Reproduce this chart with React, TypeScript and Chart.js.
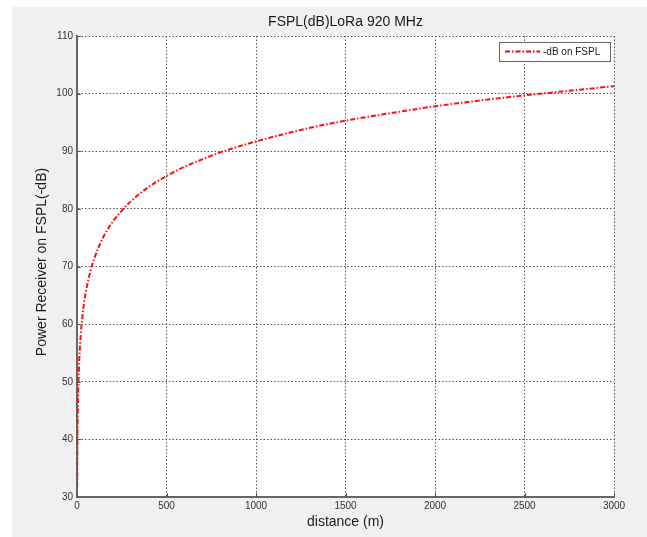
import React, { useEffect, useRef } from "react";
import { Chart, registerables } from "chart.js";

Chart.register(...registerables);

const titleText = "FSPL(dB)LoRa 920 MHz";
const xTitle = "distance (m)";
const yTitle = "Power Receiver on FSPL(-dB)";
const seriesLabel = "-dB on FSPL";

const distances = [1, 2, 3, 5, 7, 10, 15, 20, 30, 40, 50, 75, 100, 150, 200, 250, 300, 400, 500, 600, 700, 800, 900, 1000, 1250, 1500, 1750, 2000, 2250, 2500, 2750, 3000];
const powerDb = [31.7, 37.8, 41.3, 45.7, 48.6, 51.7, 55.3, 57.8, 61.3, 63.8, 65.7, 69.2, 71.7, 75.3, 77.8, 79.7, 81.3, 83.8, 85.7, 87.3, 88.6, 89.8, 90.8, 91.7, 93.7, 95.3, 96.6, 97.8, 98.8, 99.7, 100.5, 101.3];

const xTicks = [0, 500, 1000, 1500, 2000, 2500, 3000];
const yTicks = [30, 40, 50, 60, 70, 80, 90, 100, 110];

const FONT = "'Liberation Sans', Arial, Helvetica, sans-serif";

export default function App() {
  const ref = useRef<HTMLCanvasElement>(null);

  useEffect(() => {
    document.body.style.margin = "0";
    const canvas = ref.current!;
    const decor = {
      id: "decor",
      beforeDraw(chart: any) {
        const { ctx, width, height, chartArea } = chart;
        ctx.save();
        ctx.fillStyle = "#ffffff";
        ctx.fillRect(0, 0, width, height);
        ctx.fillStyle = "#f0f0f0";
        ctx.fillRect(12, 7, width - 12, height - 7);
        ctx.fillStyle = "#ffffff";
        ctx.fillRect(chartArea.left, chartArea.top, chartArea.right - chartArea.left, chartArea.bottom - chartArea.top);
        ctx.restore();
      },
      afterDraw(chart: any) {
        const { ctx, chartArea } = chart;
        const xs = chart.scales.x;
        const ys = chart.scales.y;
        ctx.save();
        // inward ticks
        ctx.strokeStyle = "#555";
        ctx.lineWidth = 1;
        ctx.setLineDash([]);
        for (const v of yTicks) {
          const y = Math.round(ys.getPixelForValue(v)) + 0.5;
          ctx.beginPath();
          ctx.moveTo(chartArea.left, y);
          ctx.lineTo(chartArea.left + 4, y);
          ctx.stroke();
        }
        for (const v of xTicks) {
          const x = Math.round(xs.getPixelForValue(v)) + 0.5;
          ctx.beginPath();
          ctx.moveTo(x, chartArea.bottom);
          ctx.lineTo(x, chartArea.bottom - 4);
          ctx.stroke();
        }
        // titles
        ctx.fillStyle = "#1a1a1a";
        ctx.font = `14px ${FONT}`;
        ctx.textAlign = "center";
        ctx.textBaseline = "middle";
        const cx = (chartArea.left + chartArea.right) / 2;
        ctx.fillText(titleText, cx, 22);
        ctx.fillText(xTitle, cx, 522);
        ctx.save();
        ctx.translate(42, 262);
        ctx.rotate(-Math.PI / 2);
        ctx.fillText(yTitle, 0, 0);
        ctx.restore();
        // legend
        const lx = 499, ly = 42, lw = 111, lh = 19;
        ctx.fillStyle = "#ffffff";
        ctx.fillRect(lx, ly, lw, lh);
        ctx.strokeStyle = "#666";
        ctx.lineWidth = 1;
        ctx.strokeRect(lx + 0.5, ly + 0.5, lw, lh);
        ctx.strokeStyle = "#ff0000";
        ctx.lineWidth = 2;
        ctx.setLineDash([5, 2, 1.5, 2]);
        ctx.beginPath();
        ctx.moveTo(505, 51.5);
        ctx.lineTo(540, 51.5);
        ctx.stroke();
        ctx.setLineDash([]);
        ctx.fillStyle = "#1a1a1a";
        ctx.font = `10px ${FONT}`;
        ctx.textAlign = "left";
        ctx.fillText(seriesLabel, 543, 52);
        ctx.restore();
      },
    };

    const chart = new Chart(canvas, {
      type: "line",
      data: {
        datasets: [
          {
            label: seriesLabel,
            data: distances.map((d, i) => ({ x: d, y: powerDb[i] })),
            borderColor: "#ff1010",
            borderWidth: 2,
            borderDash: [5, 2, 1.5, 2],
            pointRadius: 0,
            cubicInterpolationMode: "monotone",
            fill: false,
          },
        ],
      },
      options: {
        animation: false,
        responsive: false,
        maintainAspectRatio: false,
        layout: { padding: { left: 0, top: 36, right: 33, bottom: 0 } },
        plugins: {
          legend: { display: false },
          title: { display: false },
          tooltip: { enabled: false },
        },
        scales: {
          x: {
            type: "linear",
            min: 0,
            max: 3000,
            afterFit(scale: any) {
              scale.height = 40;
            },
            afterBuildTicks(scale: any) {
              scale.ticks = xTicks.map((v) => ({ value: v }));
            },
            ticks: {
              color: "#333",
              font: { family: FONT, size: 10 },
              padding: 3,
              maxRotation: 0,
              callback: (v: any) => String(v),
            },
            grid: { color: "#555", lineWidth: 1, drawTicks: false },
            border: { display: true, color: "#666", width: 2, dash: [1.5, 2] },
          },
          y: {
            type: "linear",
            min: 30,
            max: 110,
            afterFit(scale: any) {
              scale.width = 77;
            },
            afterBuildTicks(scale: any) {
              scale.ticks = yTicks.map((v) => ({ value: v }));
            },
            ticks: {
              color: "#333",
              font: { family: FONT, size: 10 },
              padding: 4,
              callback: (v: any) => String(v),
            },
            grid: { color: "#555", lineWidth: 1, drawTicks: false },
            border: { display: true, color: "#666", width: 2, dash: [1.5, 2] },
          },
        },
      },
      plugins: [decor],
    });
    return () => chart.destroy();
  }, []);

  return <canvas ref={ref} width={647} height={537} style={{ display: "block" }} />;
}
